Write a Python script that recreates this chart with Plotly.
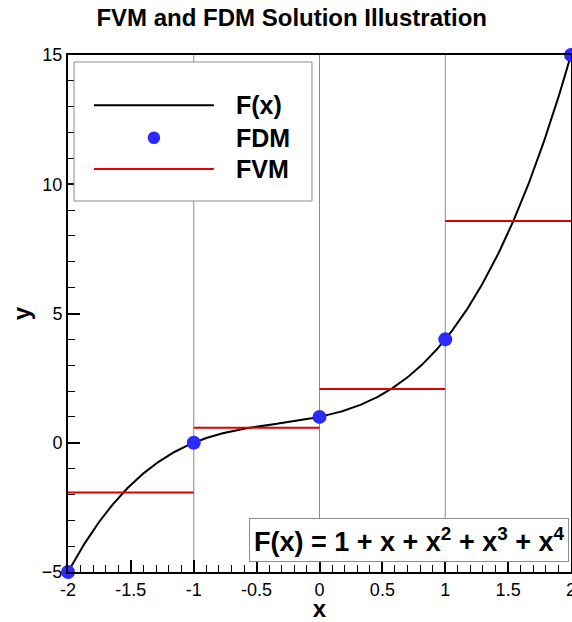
import numpy as np
import plotly.graph_objects as go

# Polynomial coefficients of F(x), lowest order first
poly_coeffs = [1, 1, 1, 1]

# FDM nodal values
fdm_x = [-2, -1, 0, 1, 2]
fdm_y = [-5, 0, 1, 4, 15]

# FVM cell edges and cell averages
cell_edges = [-2, -1, 0, 1, 2]
fvm_avg = [-1.92, 0.58, 2.08, 8.58]

x_ticks = [-2, -1.5, -1, -0.5, 0, 0.5, 1, 1.5, 2]
y_ticks = [-5, 0, 5, 10, 15]

FONT = "Liberation Sans, Arial, Helvetica, sans-serif"

xs = np.linspace(cell_edges[0], cell_edges[-1], 401)
ys = np.polynomial.polynomial.polyval(xs, poly_coeffs)

fvm_x, fvm_y = [], []
for i, v in enumerate(fvm_avg):
    fvm_x += [cell_edges[i], cell_edges[i + 1], None]
    fvm_y += [v, v, None]

fig = go.Figure()
fig.add_trace(go.Scatter(x=xs, y=ys, mode="lines", name="F(x)",
                         line=dict(color="black", width=2)))
fig.add_trace(go.Scatter(x=fvm_x, y=fvm_y, mode="lines", name="FVM",
                         line=dict(color="#e00000", width=2)))
fig.add_trace(go.Scatter(x=fdm_x, y=fdm_y, mode="markers", name="FDM",
                         marker=dict(color="#2b2bff", size=14),
                         cliponaxis=False))

shapes = []
# cell boundary lines
for e in cell_edges[1:-1]:
    shapes.append(dict(type="line", xref="x", yref="paper", x0=e, x1=e,
                       y0=0, y1=1, line=dict(color="#8c8c8c", width=1),
                       layer="below"))

# legend box
shapes.append(dict(type="rect", xref="paper", yref="paper",
                   x0=0.012, x1=0.485, y0=0.7176, y1=0.9865,
                   line=dict(color="#8c8c8c", width=1), fillcolor="white",
                   layer="above"))
legend_rows = [
    ("F(x)", 0.903, "line", "black"),
    ("FDM", 0.840, "marker", "#2b2bff"),
    ("FVM", 0.7795, "line", "#e00000"),
]
annotations = []
for label, yy, kind, col in legend_rows:
    if kind == "line":
        shapes.append(dict(type="line", xref="paper", yref="paper",
                           x0=0.0517, x1=0.290, y0=yy, y1=yy,
                           line=dict(color=col, width=2), layer="above"))
    else:
        shapes.append(dict(type="circle", xref="paper", yref="paper",
                           x0=0.1708 - 0.0125, x1=0.1708 + 0.0125,
                           y0=yy - 0.0122, y1=yy + 0.0122,
                           line=dict(color=col, width=0), fillcolor=col,
                           layer="above"))
    annotations.append(dict(x=0.330, y=yy, xref="paper", yref="paper",
                            text=f"<b>{label}</b>", showarrow=False,
                            xanchor="left", yanchor="middle",
                            font=dict(family=FONT, size=25, color="black")))

annotations.append(dict(
    x=0.997, y=0.0195, xref="paper", yref="paper",
    xanchor="right", yanchor="bottom", showarrow=False,
    text="<b>F(x) = 1 + x + x<sup>2</sup> + x<sup>3</sup> + x<sup>4</sup></b>",
    font=dict(family=FONT, size=27, color="black"),
    bordercolor="#8c8c8c", borderwidth=1, borderpad=4, bgcolor="white"))

axis_common = dict(
    showgrid=False, zeroline=False, showline=True, linecolor="black",
    linewidth=2, mirror=True, ticks="inside", ticklen=12, tickwidth=2,
    tickcolor="black", tickfont=dict(family=FONT, size=18, color="black"),
    ticklabeloverflow="allow", automargin=False,
)

fig.update_layout(
    width=572, height=622,
    margin=dict(l=68, r=1, t=55, b=50),
    paper_bgcolor="white", plot_bgcolor="white",
    showlegend=False,
    title=dict(text="<b>FVM and FDM Solution Illustration</b>",
               x=0.51, xanchor="center", y=0.972, yanchor="middle",
               font=dict(family=FONT, size=24, color="black")),
    xaxis=dict(range=[-2, 2], tickvals=x_ticks,
               ticktext=[f"{v:g}" for v in x_ticks],
               minor=dict(ticks="inside", dtick=0.1, ticklen=7,
                          tickwidth=1, tickcolor="black"),
               title=dict(text="<b>x</b>", standoff=6,
                          font=dict(family=FONT, size=24, color="black")),
               **axis_common),
    yaxis=dict(range=[-5, 15], tickvals=y_ticks,
               minor=dict(ticks="inside", dtick=1, ticklen=7,
                          tickwidth=1, tickcolor="black"),
               title=dict(text="<b>y</b>", standoff=4,
                          font=dict(family=FONT, size=24, color="black")),
               **axis_common),
    shapes=shapes,
    annotations=annotations,
)

fig.write_html("out.html")
